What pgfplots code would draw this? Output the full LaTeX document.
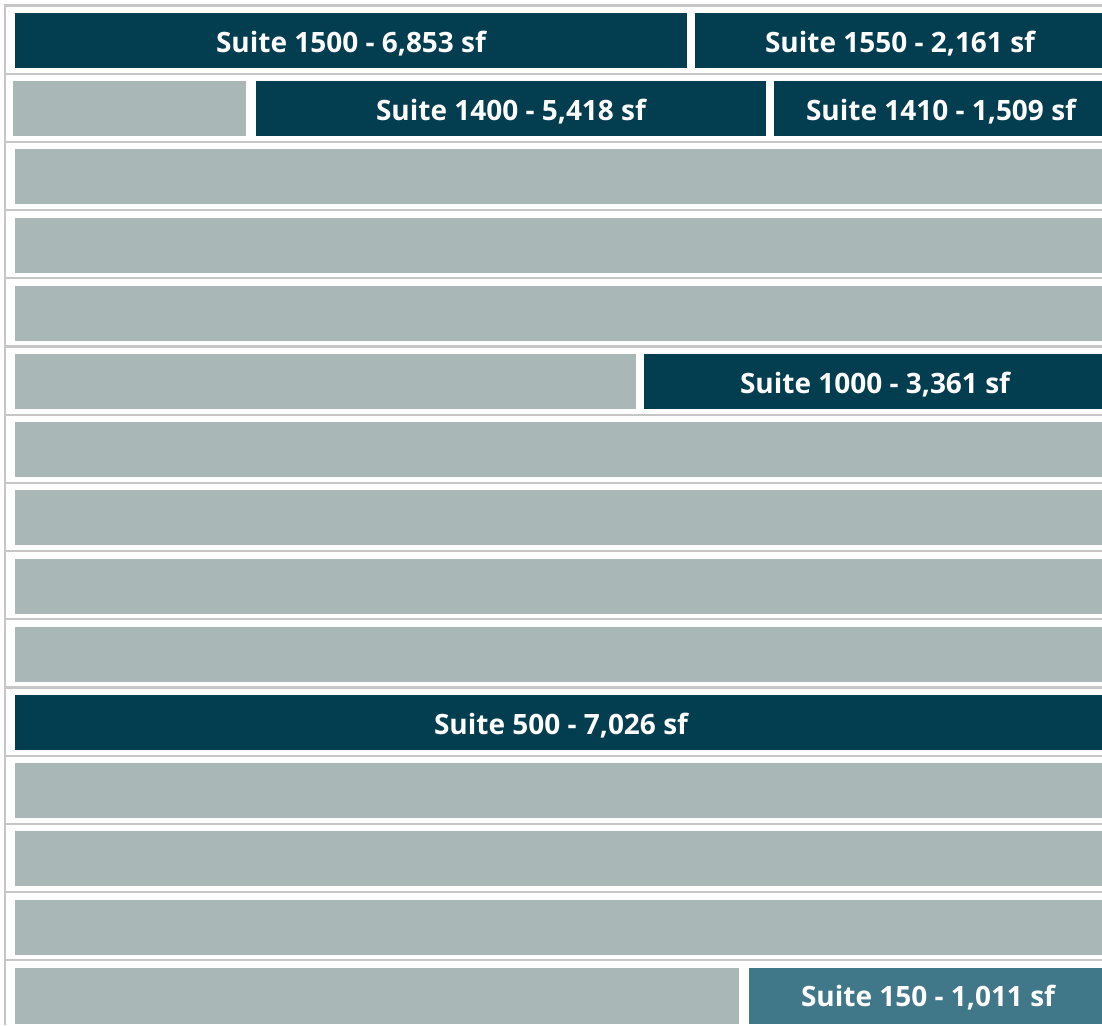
\documentclass[border=0pt]{standalone}
\usepackage{pgfplots}
\pgfplotsset{compat=1.18}
\usepackage{fontspec}
\setmainfont{Open Sans}
\definecolor{dark}{HTML}{033D50}
\definecolor{mid}{HTML}{407789}
\definecolor{pale}{HTML}{A9B7B7}
\definecolor{rule}{HTML}{C6C6C6}
\tikzset{lbl/.style={font=\fontsize{14}{17}\selectfont\bfseries, text=white, inner sep=0pt, anchor=base}}
\begin{document}
\begin{tikzpicture}
\begin{axis}[
  scale only axis, width=551pt, height=512.5pt,
  xmin=0, xmax=1102, ymin=0, ymax=1025, y dir=reverse,
  hide axis, clip=true,
]
\addplot[draw=none, forget plot] coordinates {(0,0) (1102,1025)};
% floor rules
\pgfplotsinvokeforeach{5.5,73.7,141.9,210.1,278.3,346.5,414.7,482.9,551.1,619.3,687.5,755.7,823.9,892.1,960.3}{
  \addplot[rule, line width=1.1pt, forget plot] coordinates {(4,#1) (1102,#1)};
}
\addplot[rule, line width=1.1pt, forget plot] coordinates {(5,4.5) (5,1025)};
% floor 15
\addplot[fill=dark, draw=none] coordinates {(15,13) (687,13) (687,68) (15,68)};
\addplot[fill=dark, draw=none] coordinates {(695,13) (1102,13) (1102,68) (695,68)};
% floor 14
\addplot[fill=pale, draw=none] coordinates {(13,81.2) (246,81.2) (246,136.2) (13,136.2)};
\addplot[fill=dark, draw=none] coordinates {(256,81.2) (766,81.2) (766,136.2) (256,136.2)};
\addplot[fill=dark, draw=none] coordinates {(774,81.2) (1102,81.2) (1102,136.2) (774,136.2)};
% floors 13-11
\addplot[fill=pale, draw=none] coordinates {(15,149.4) (1102,149.4) (1102,204.4) (15,204.4)};
\addplot[fill=pale, draw=none] coordinates {(15,217.6) (1102,217.6) (1102,272.6) (15,272.6)};
\addplot[fill=pale, draw=none] coordinates {(15,285.8) (1102,285.8) (1102,340.8) (15,340.8)};
% floor 10
\addplot[fill=pale, draw=none] coordinates {(15,354) (636,354) (636,409) (15,409)};
\addplot[fill=dark, draw=none] coordinates {(644,354) (1102,354) (1102,409) (644,409)};
% floors 9-6
\addplot[fill=pale, draw=none] coordinates {(15,422.2) (1102,422.2) (1102,477.2) (15,477.2)};
\addplot[fill=pale, draw=none] coordinates {(15,490.4) (1102,490.4) (1102,545.4) (15,545.4)};
\addplot[fill=pale, draw=none] coordinates {(15,558.6) (1102,558.6) (1102,613.6) (15,613.6)};
\addplot[fill=pale, draw=none] coordinates {(15,626.8) (1102,626.8) (1102,681.8) (15,681.8)};
% floor 5
\addplot[fill=dark, draw=none] coordinates {(15,695) (1102,695) (1102,750) (15,750)};
% floors 4-2
\addplot[fill=pale, draw=none] coordinates {(15,763.2) (1102,763.2) (1102,818.2) (15,818.2)};
\addplot[fill=pale, draw=none] coordinates {(15,831.4) (1102,831.4) (1102,886.4) (15,886.4)};
\addplot[fill=pale, draw=none] coordinates {(15,899.6) (1102,899.6) (1102,954.6) (15,954.6)};
% floor 1
\addplot[fill=pale, draw=none] coordinates {(15,967.8) (739,967.8) (739,1024) (15,1024)};
\addplot[fill=mid, draw=none] coordinates {(749,967.8) (1102,967.8) (1102,1024) (749,1024)};
% labels
\node[lbl] at (axis cs:351,52) {Suite 1500 - 6,853 sf};
\node[lbl] at (axis cs:900,52) {Suite 1550 - 2,161 sf};
\node[lbl] at (axis cs:511,120.2) {Suite 1400 - 5,418 sf};
\node[lbl] at (axis cs:941,120.2) {Suite 1410 - 1,509 sf};
\node[lbl] at (axis cs:875,393) {Suite 1000 - 3,361 sf};
\node[lbl] at (axis cs:561,734) {Suite 500 - 7,026 sf};
\node[lbl] at (axis cs:928,1006.8) {Suite 150 - 1,011 sf};
\end{axis}
\end{tikzpicture}
\end{document}
